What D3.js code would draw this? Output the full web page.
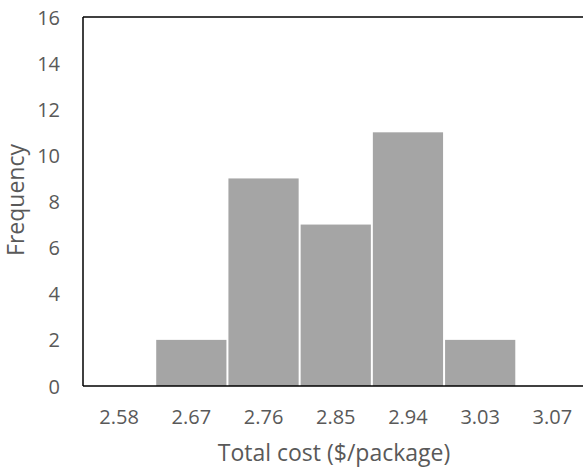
<!DOCTYPE html>
<html>
<head>
<meta charset="utf-8">
<script src="https://cdn.jsdelivr.net/npm/d3@7"></script>
<style>
  html, body { margin: 0; padding: 0; background: #fff; }
  svg { display: block; }
</style>
</head>
<body>
<svg id="chart" width="583" height="471"></svg>
<script>
const categories = ["2.58", "2.67", "2.76", "2.85", "2.94", "3.03", "3.07"];
const frequencies = [0, 2, 9, 7, 11, 2, 0];
const yTicks = [0, 2, 4, 6, 8, 10, 12, 14, 16];
const xTitle = "Total cost ($/package)";
const yTitle = "Frequency";

(function () {
const svg = d3.select("#chart");
const pLeft = 83, pRight = 588.5, pTop = 17, pBottom = 386;
const font = "'Open Sans', sans-serif";
const textColor = "#595959";

const x = d3.scaleBand().domain(categories).range([pLeft, pRight]).paddingInner(0).paddingOuter(0);
const y = d3.scaleLinear().domain([0, 16]).range([pBottom, pTop]);

// bars
svg.append("g").selectAll("rect")
  .data(categories.map((c, i) => ({ c, v: frequencies[i] })))
  .join("rect")
  .attr("x", d => x(d.c) + 1)
  .attr("width", x.bandwidth() - 2)
  .attr("y", d => y(d.v))
  .attr("height", d => y(0) - y(d.v))
  .attr("fill", "#a5a5a5");

// frame (top, left, bottom)
svg.append("line").attr("x1", pLeft).attr("x2", 583).attr("y1", pTop).attr("y2", pTop)
  .attr("stroke", "#000").attr("stroke-width", 1.5);
svg.append("line").attr("x1", pLeft).attr("x2", pLeft).attr("y1", pTop).attr("y2", pBottom)
  .attr("stroke", "#000").attr("stroke-width", 1.5);
svg.append("line").attr("x1", pLeft).attr("x2", 583).attr("y1", pBottom).attr("y2", pBottom)
  .attr("stroke", "#000").attr("stroke-width", 1.5);

// y axis
const yAxis = d3.axisLeft(y).tickValues(yTicks).tickSize(0).tickPadding(0);
const gy = svg.append("g").attr("transform", "translate(60,0)").call(yAxis);
gy.select(".domain").remove();
gy.selectAll("text").attr("fill", textColor).style("font-family", font).style("font-size", "20px")
  .attr("dy", "0.35em");

// x axis
const xAxis = d3.axisBottom(x).tickSize(0).tickPadding(0);
const gx = svg.append("g").attr("transform", `translate(0,${pBottom})`).call(xAxis);
gx.select(".domain").remove();
gx.selectAll("text").attr("fill", textColor).style("font-family", font).style("font-size", "20px")
  .attr("y", 38).attr("dy", "0");

// titles
svg.append("text").attr("x", (pLeft + 583) / 2 + 1).attr("y", 461)
  .attr("text-anchor", "middle").attr("fill", textColor)
  .style("font-family", font).style("font-size", "23px").text(xTitle);
svg.append("text").attr("transform", "translate(24,200) rotate(-90)")
  .attr("text-anchor", "middle").attr("fill", textColor)
  .style("font-family", font).style("font-size", "23px").text(yTitle);
})();
</script>
</body>
</html>
